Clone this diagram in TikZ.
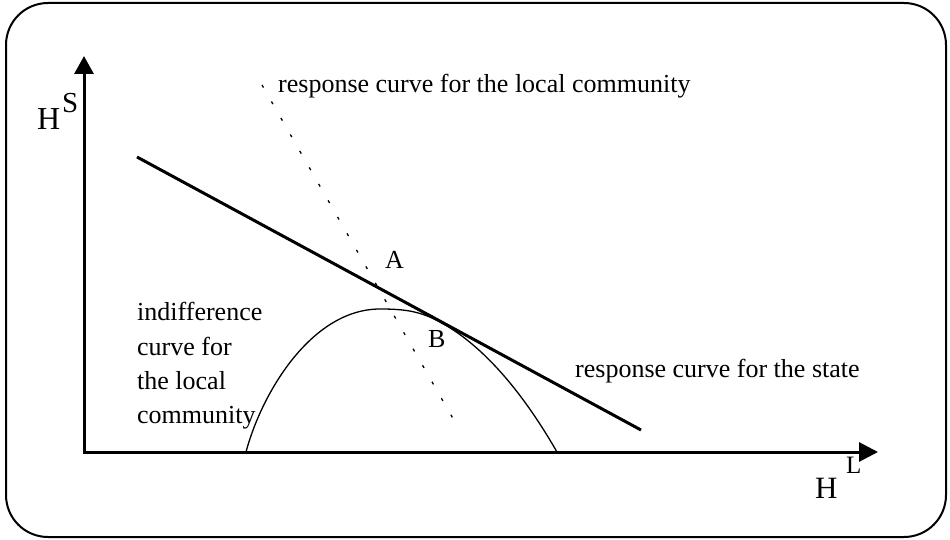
\documentclass[tikz,border=0pt]{standalone}
\usepackage{fontspec}
\setmainfont{Liberation Serif}
\usetikzlibrary{arrows.meta}
\begin{document}
\begin{tikzpicture}[x=1pt,y=-1pt,
  axis/.style={line width=3pt,{Triangle[length=18pt,width=19pt]}-{Triangle[length=19pt,width=19pt]}},
  stateline/.style={line width=3pt},
  localline/.style={line width=1.3pt, dash pattern=on 3pt off 16pt},
  indiff/.style={line width=1.3pt},
  lbl/.style={font=\fontsize{26}{31}\selectfont, inner sep=0pt, anchor=base west},
  biglbl/.style={font=\fontsize{32}{36}\selectfont, inner sep=0pt, anchor=base west},
  frame/.style={line width=2pt, rounded corners=42pt}]
\useasboundingbox (0,0) rectangle (950,540);
\draw[frame] (6,3) rectangle (946,537);
% axes
\coordinate (ytip) at (84,56);
\coordinate (origin) at (84,452);
\coordinate (xtip) at (878,452);
\draw[axis] (ytip) -- (origin) -- (xtip);
% axis labels
\node[biglbl] (HS) at (37,130) {H};
\node[lbl, font=\fontsize{29}{33}\selectfont] (S) at (62,113) {S};
\node[biglbl, font=\fontsize{31}{35}\selectfont] (HL) at (815,498) {H};
\node[lbl, font=\fontsize{25}{30}\selectfont] (L) at (846,473) {L};
% response curve for the state
\coordinate (s1) at (137,157);
\coordinate (s2) at (641,430);
\draw[stateline] (s1) -- (s2);
% response curve for the local community
\coordinate (c1) at (262,85);
\coordinate (c2) at (455,422);
\draw[localline] (c1) -- (c2);
% indifference curve
\coordinate (iL) at (246,452);
\coordinate (peak) at (380,309);
\coordinate (tan) at (440,322);
\coordinate (iR) at (557,452);
\draw[indiff] (iL) .. controls (262,392) and (312,309) .. (peak)
  .. controls (405,309) and (420,311.2) .. (tan)
  .. controls (490,349) and (530,405) .. (iR);
% labels
\node[lbl] (top) at (278,93) {response curve for the local community};
\node[lbl] (state) at (575,377) {response curve for the state};
\node[lbl] (A) at (385,268) {A};
\node[lbl] (B) at (428,347) {B};
\node[lbl] (ic1) at (137,320) {indifference};
\node[lbl] (ic2) at (137,355) {curve for};
\node[lbl] (ic3) at (137,389) {the local};
\node[lbl] (ic4) at (137,423) {community};
\end{tikzpicture}
\end{document}
